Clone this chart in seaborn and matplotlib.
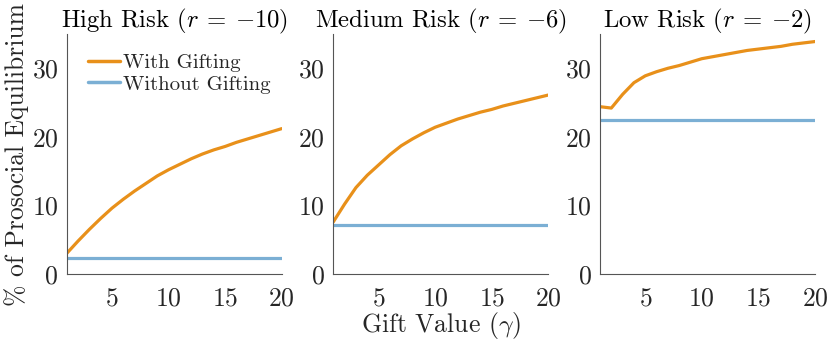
import numpy as np
import pandas as pd
import seaborn as sns
import matplotlib
matplotlib.use("Agg")
import matplotlib.pyplot as plt

# gift values and read-off percentages
gift = list(range(1, 21))
high_with = [3.0, 4.8, 6.5, 8.1, 9.6, 10.9, 12.1, 13.2, 14.3, 15.2,
             16.0, 16.8, 17.5, 18.1, 18.6, 19.2, 19.7, 20.2, 20.7, 21.2]
med_with = [7.6, 10.2, 12.6, 14.4, 15.9, 17.4, 18.7, 19.7, 20.6, 21.4,
            22.0, 22.6, 23.1, 23.6, 24.0, 24.5, 24.9, 25.3, 25.7, 26.1]
low_with = [24.4, 24.2, 26.2, 27.9, 28.9, 29.5, 30.0, 30.4, 30.9, 31.4,
            31.7, 32.0, 32.3, 32.6, 32.8, 33.0, 33.2, 33.5, 33.7, 33.9]
high_without = 2.3
med_without = 7.2
low_without = 22.5

titles = [r"High Risk ($r\:=\:{-10}$)", r"Medium Risk ($r\:=\:{-6}$)", r"Low Risk ($r\:=\:{-2}$)"]
with_vals = [high_with, med_with, low_with]
without_vals = [high_without, med_without, low_without]

orange = "#E8901A"
blue = "#7BAFD4"

sns.set_style("white")
plt.rcParams["font.family"] = "serif"
plt.rcParams["font.serif"] = ["cmr10", "DejaVu Serif"]
plt.rcParams["mathtext.fontset"] = "cm"
plt.rcParams["axes.formatter.use_mathtext"] = True
plt.rcParams["axes.unicode_minus"] = False

fig = plt.figure(figsize=(8.31, 3.42), dpi=100)
lefts = [66.7, 333.3, 600.0]
axes = []
for i in range(3):
    ax = fig.add_axes([lefts[i] / 831, 1 - 274 / 342, 215 / 831, 240 / 342])
    axes.append(ax)
    df = pd.DataFrame({"gift": gift, "With Gifting": with_vals[i],
                       "Without Gifting": [without_vals[i]] * len(gift)})
    sns.lineplot(data=df, x="gift", y="With Gifting", ax=ax, color=orange,
                 linewidth=2.3, label="With Gifting")
    sns.lineplot(data=df, x="gift", y="Without Gifting", ax=ax, color=blue,
                 linewidth=2.3, label="Without Gifting")
    ax.set_xlim(1, 20)
    ax.set_ylim(0, 35)
    ax.set_xticks([5, 10, 15, 20])
    ax.set_yticks([0, 10, 20, 30])
    ax.set_title(titles[i], fontsize=17.8, color="black", pad=5)
    ax.set_xlabel("")
    ax.set_ylabel("")
    for s in ["top", "right"]:
        ax.spines[s].set_visible(False)
    for s in ["left", "bottom"]:
        ax.spines[s].set_color("#555555")
        ax.spines[s].set_linewidth(0.8)
    ax.tick_params(direction="in", length=3, width=0.8, color="#555555",
                   labelsize=18.5, labelcolor="#262626")
    ax.tick_params(axis="x", pad=9)
    ax.tick_params(axis="y", pad=6)
    if i == 0:
        leg = ax.legend(loc="upper left", frameon=False, fontsize=15,
                        handlelength=1.55, handletextpad=0.15, borderaxespad=0.3,
                        labelspacing=0.15, bbox_to_anchor=(0.03, 0.98))
        for line in leg.get_lines():
            line.set_linewidth(2.5)
    else:
        ax.get_legend().remove()

axes[0].set_ylabel("% of Prosocial Equilibrium", fontsize=18.5, color="#262626", labelpad=2)
axes[1].set_xlabel(r"Gift Value ($\gamma$)", fontsize=18.5, color="#262626", labelpad=0)

fig.savefig("out.png", dpi=100)
